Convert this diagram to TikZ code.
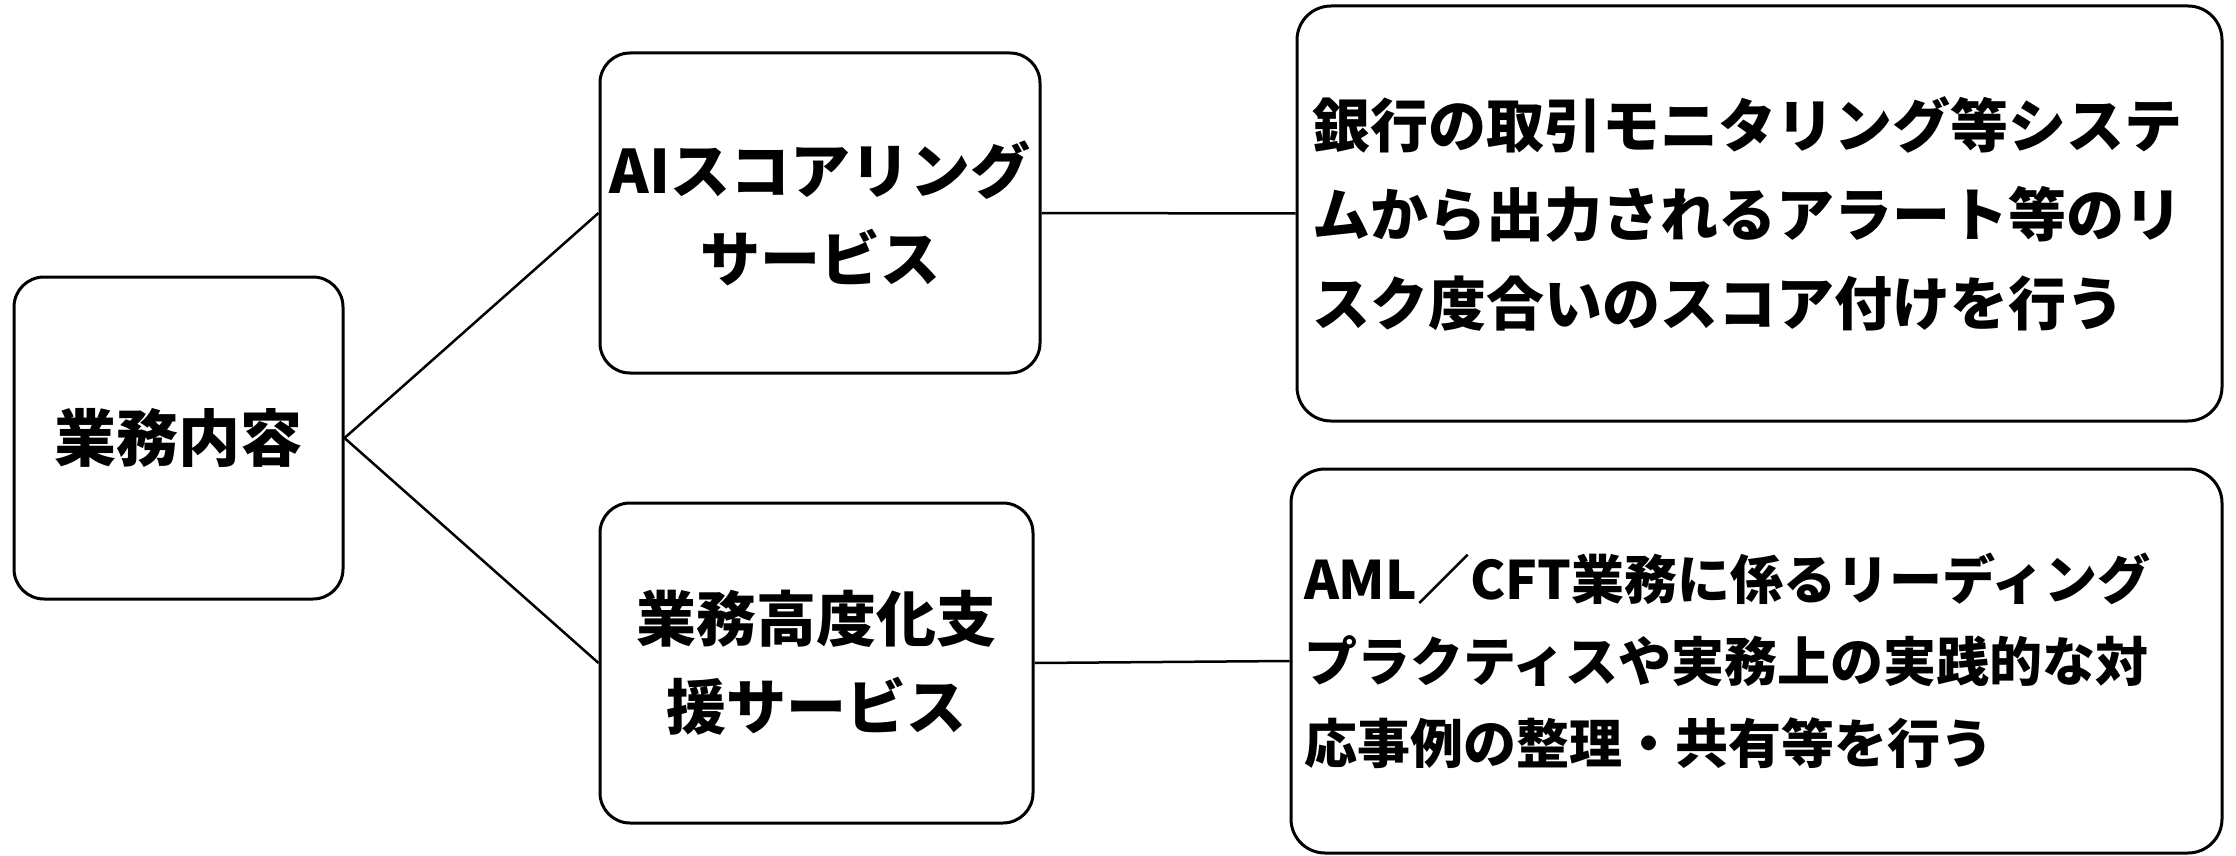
\documentclass[tikz,border=0pt]{standalone}
\usepackage{fontspec}
\setmainfont{Noto Sans CJK JP}
\begin{document}
\begin{tikzpicture}[x=1pt,y=-1pt,
  box/.style={draw=black,line width=3pt,rounded corners=30pt,fill=white,inner sep=0pt,align=center},
  conn/.style={draw=black,line width=2.5pt}]
\useasboundingbox (0,0) rectangle (2236,856);
\node[box,minimum width=329pt,minimum height=322pt,font=\bfseries\fontsize{62}{88}\selectfont] (root) at (178.5,438) {業務内容};
\node[box,minimum width=440pt,minimum height=320pt,font=\bfseries\fontsize{60}{88}\selectfont] (ai) at (820,213) {AIスコアリング\\サービス};
\node[box,minimum width=433pt,minimum height=320pt,font=\bfseries\fontsize{60}{88}\selectfont] (adv) at (816.5,663) {業務高度化支\\援サービス};
\node[box,rounded corners=34pt,minimum width=925pt,minimum height=415pt,text width=895pt,align=left,font=\bfseries\fontsize{58}{89}\selectfont] (rt) at (1759.5,213.5) {銀行の取引モニタリング等システ\\ムから出力されるアラート等のリ\\スク度合いのスコア付けを行う};
\node[box,rounded corners=34pt,minimum width=931pt,minimum height=384pt,text width=905pt,align=left,font=\bfseries\fontsize{53}{82}\selectfont] (rb) at (1756.5,661) {AML／CFT業務に係るリーディング\\プラクティスや実務上の実践的な対\\応事例の整理・共有等を行う};
\draw[conn] (root.east) -- (ai.west);
\draw[conn] (root.east) -- (adv.west);
\draw[conn] (ai.east) -- (rt.west);
\draw[conn] (adv.east) -- (rb.west);
\end{tikzpicture}
\end{document}
